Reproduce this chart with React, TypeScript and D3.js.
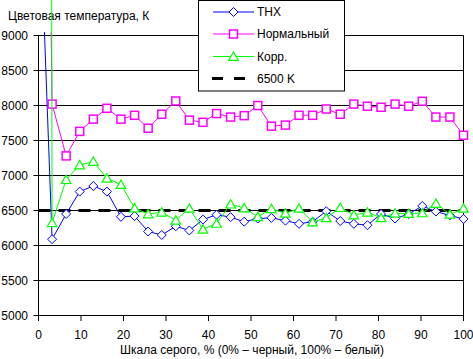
import React from "react";
import * as d3 from "d3";

const xValues = [0, 3.2, 6.5, 9.7, 12.9, 16.1, 19.4, 22.6, 25.8, 29.0, 32.3, 35.5, 38.7, 41.9, 45.2, 48.4, 51.6, 54.8, 58.1, 61.3, 64.5, 67.7, 71.0, 74.2, 77.4, 80.6, 83.9, 87.1, 90.3, 93.5, 96.8, 100];
const thx = [11350, 6090, 6450, 6770, 6850, 6770, 6410, 6420, 6200, 6150, 6275, 6215, 6370, 6440, 6405, 6340, 6385, 6395, 6355, 6310, 6340, 6490, 6350, 6310, 6290, 6450, 6385, 6450, 6565, 6485, 6430, 6380];
const normal = [22500, 8020, 7280, 7630, 7805, 7960, 7805, 7860, 7675, 7875, 8065, 7790, 7760, 7885, 7835, 7855, 8000, 7705, 7720, 7860, 7860, 7950, 7875, 8020, 7990, 7975, 8020, 7990, 8060, 7835, 7835, 7575];
const corr = [115000, 6325, 6940, 7150, 7200, 6960, 6870, 6535, 6450, 6475, 6360, 6530, 6230, 6315, 6590, 6535, 6410, 6525, 6460, 6530, 6335, 6395, 6540, 6435, 6475, 6395, 6460, 6455, 6465, 6600, 6445, 6530];
const refValue = 6500;
const refX = [0, 100];
const xTicks = [0, 10, 20, 30, 40, 50, 60, 70, 80, 90, 100];
const yTicks = [5000, 5500, 6000, 6500, 7000, 7500, 8000, 8500, 9000];
const legendLabels = ["THX", "Нормальный", "Корр.", "6500 K"];
const titleText = "Цветовая температура, К";
const xTitle = "Шкала серого, % (0% – черный, 100% – белый)";

const FONT = "'Liberation Sans', Arial, sans-serif";
const BLUE = "#0000ff";
const PINK = "#ff00ff";
const GREEN = "#00ff00";

const x = d3.scaleLinear().domain([0, 100]).range([38.5, 463.5]);
const y = d3.scaleLinear().domain([5000, 9000]).range([315.5, 35.5]);

function diamond(cx: number, cy: number, r = 4.5) {
  return `M${cx},${cy - r}L${cx + r},${cy}L${cx},${cy + r}L${cx - r},${cy}Z`;
}
function triangle(cx: number, cy: number) {
  return `M${cx},${cy - 4.5}L${cx + 4.8},${cy + 3.8}L${cx - 4.8},${cy + 3.8}Z`;
}

export default function App() {
  const line = d3.line<number>().x((_, i) => x(xValues[i])).y((d) => y(d));
  const pts = (arr: number[]) => arr.map((v, i) => ({ cx: x(xValues[i]), cy: y(v), v }));
  const inPlot = (p: { v: number }) => p.v <= 9000;

  const legendY = [12, 34, 56.5, 78.5];

  return (
    <svg width={473} height={359} style={{ position: "absolute", left: 0, top: 0, background: "#fff" }} fontFamily={FONT}>
      <defs>
        <clipPath id="clipA"><rect x={0} y={32} width={473} height={327} /></clipPath>
        <clipPath id="clipB"><rect x={0} y={0} width={473} height={359} /></clipPath>
      </defs>
      <rect x={0} y={0} width={473} height={359} fill="#fff" />
      {/* gridlines */}
      {yTicks.map((t) => (
        <line key={t} x1={x(0) - 5} x2={x(100)} y1={y(t)} y2={y(t)} stroke="#000" strokeWidth={1} />
      ))}
      {/* axes */}
      <line x1={x(0)} x2={x(0)} y1={y(9000)} y2={y(5000)} stroke="#000" />
      <line x1={x(100)} x2={x(100)} y1={y(9000)} y2={y(5000) + 5.5} stroke="#000" />
      {xTicks.map((t) => (
        <g key={t}>
          <line x1={x(t)} x2={x(t)} y1={y(5000)} y2={y(5000) + 5.5} stroke="#000" />
          <text x={x(t)} y={338.5} fontSize={12} textAnchor="middle" fill="#000">{t}</text>
        </g>
      ))}
      {yTicks.map((t) => (
        <text key={t} x={28} y={y(t) + 4.3} fontSize={12} textAnchor="end" fill="#000">{t}</text>
      ))}
      <text x={8} y={20} fontSize={12} fill="#000">{titleText}</text>
      <text x={252} y={354} fontSize={12} textAnchor="middle" fill="#000">{xTitle}</text>

      {/* reference line */}
      <line x1={x(refX[0])} x2={x(refX[1])} y1={y(refValue)} y2={y(refValue)} stroke="#000" strokeWidth={3} strokeDasharray="12 8" />

      {/* THX */}
      <path d={line(thx) || ""} fill="none" stroke={BLUE} strokeWidth={1} clipPath="url(#clipA)" />
      {pts(thx).filter(inPlot).map((p, i) => (
        <path key={i} d={diamond(p.cx, p.cy)} fill="#fff" stroke={BLUE} strokeWidth={1} />
      ))}
      {/* Normal */}
      <path d={line(normal) || ""} fill="none" stroke={PINK} strokeWidth={1} clipPath="url(#clipA)" />
      {pts(normal).filter(inPlot).map((p, i) => (
        <rect key={i} x={p.cx - 4} y={p.cy - 4} width={8} height={8} fill="#fff" stroke={PINK} strokeWidth={1.5} />
      ))}
      {/* Corr */}
      <path d={line(corr) || ""} fill="none" stroke={GREEN} strokeWidth={1} clipPath="url(#clipB)" />
      {pts(corr).filter(inPlot).map((p, i) => (
        <path key={i} d={triangle(p.cx, p.cy)} fill="#fff" stroke={GREEN} strokeWidth={1.2} />
      ))}

      {/* legend */}
      <rect x={198.5} y={0.5} width={146} height={90.5} fill="#fff" stroke="#000" strokeWidth={1} />
      <line x1={213} x2={254} y1={legendY[0]} y2={legendY[0]} stroke={BLUE} />
      <path d={diamond(233.5, legendY[0])} fill="#fff" stroke={BLUE} />
      <line x1={213} x2={254} y1={legendY[1]} y2={legendY[1]} stroke={PINK} />
      <rect x={229.5} y={legendY[1] - 4} width={8} height={8} fill="#fff" stroke={PINK} strokeWidth={1.5} />
      <line x1={213} x2={254} y1={legendY[2]} y2={legendY[2]} stroke={GREEN} />
      <path d={triangle(233.5, legendY[2])} fill="#fff" stroke={GREEN} strokeWidth={1.2} />
      <line x1={212} x2={254} y1={legendY[3]} y2={legendY[3]} stroke="#000" strokeWidth={3} strokeDasharray="11 11" />
      {legendLabels.map((l, i) => (
        <text key={l} x={257} y={legendY[i] + 4.3} fontSize={12} fill="#000">{l}</text>
      ))}
    </svg>
  );
}
